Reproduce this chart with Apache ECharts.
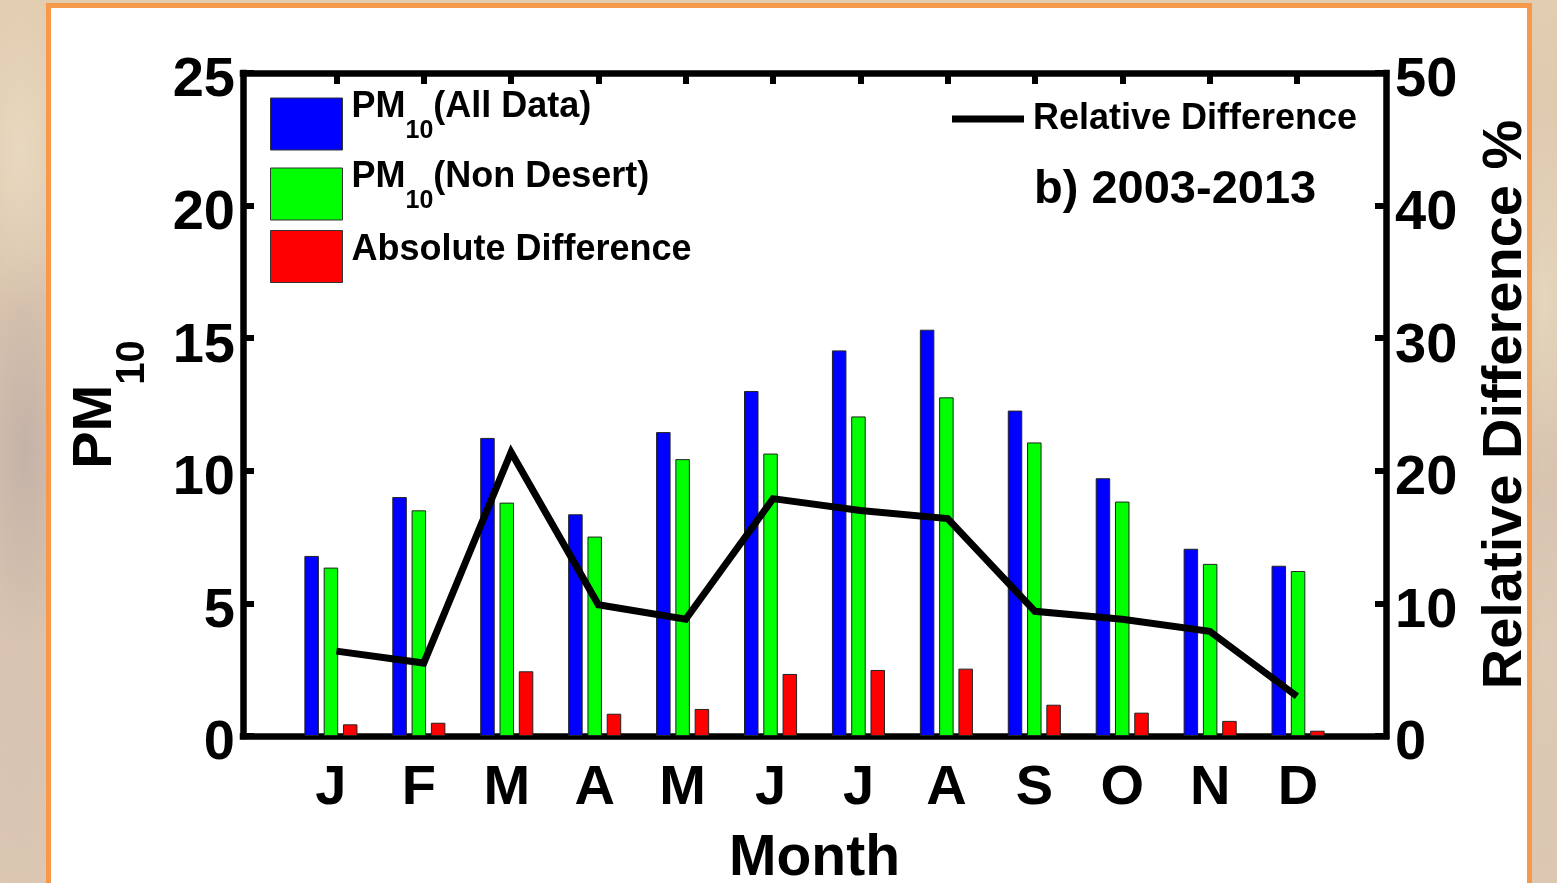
<!DOCTYPE html>
<html>
<head>
<meta charset="utf-8">
<script src="https://cdn.jsdelivr.net/npm/echarts@6/dist/echarts.min.js"></script>
<style>
  html, body { margin: 0; padding: 0; width: 1557px; height: 883px; overflow: hidden; }
  body {
    background-color: #d9c5ab;
    background-image:
      radial-gradient(ellipse 60px 160px at 20px 150px, rgba(235, 220, 195, 0.8), transparent),
      radial-gradient(ellipse 50px 200px at 25px 450px, rgba(190, 172, 165, 0.7), transparent),
      radial-gradient(ellipse 50px 180px at 20px 760px, rgba(215, 195, 180, 0.7), transparent),
      radial-gradient(ellipse 40px 200px at 1545px 300px, rgba(232, 218, 192, 0.8), transparent),
      radial-gradient(ellipse 40px 200px at 1545px 650px, rgba(222, 205, 185, 0.8), transparent),
      linear-gradient(180deg, #e2cdb0 0%, #d6c1ae 50%, #dcc8b2 100%);
  }
  #panel {
    position: absolute; left: 46px; top: 3px; width: 1486px; height: 900px;
    box-sizing: border-box; border: 5px solid #f7994a; background: #fff;
  }
  #chart { position: absolute; left: 0; top: 0; width: 1557px; height: 883px; }
</style>
</head>
<body>
<div id="panel"></div>
<div id="chart"></div>
<script>
// 月份与数据
var months = ['J', 'F', 'M', 'A', 'M', 'J', 'J', 'A', 'S', 'O', 'N', 'D'];
var pmAll = [6.79, 9.01, 11.24, 8.36, 11.46, 13.01, 14.54, 15.32, 12.27, 9.72, 7.06, 6.42];
var pmNonDesert = [6.35, 8.51, 8.80, 7.52, 10.44, 10.65, 12.05, 12.77, 11.07, 8.84, 6.49, 6.22];
var absDiff = [0.44, 0.50, 2.44, 0.84, 1.02, 2.34, 2.49, 2.54, 1.18, 0.88, 0.57, 0.20];
var relDiff = [6.4, 5.5, 21.4, 9.9, 8.8, 17.9, 17.0, 16.4, 9.4, 8.8, 7.9, 3.0];
var monthIndex = months.map(function (m, i) { return i + 1; });

var FONT = '"Liberation Sans", Arial, Helvetica, sans-serif';

function pairs(values) {
  return values.map(function (v, i) { return [monthIndex[i], v]; });
}

function bold(size, extra) {
  var s = { fontSize: size, fontWeight: 'bold', fontFamily: FONT, color: '#000' };
  for (var k in extra) s[k] = extra[k];
  return s;
}

// PM10 下标的图例文字
function legendName(name) {
  if (name.indexOf('PM10') === 0) {
    return '{p|PM}{s|10}{m|' + name.slice(4) + '}';
  }
  return '{n|' + name + '}';
}

var legendRich = {
  p: bold(36, { padding: [0, 0, 34, 4] }),
  m: bold(36, { padding: [0, 0, 34, 0] }),
  s: bold(25, { padding: [14, 0, 0, 0] }),
  n: bold(36, { padding: [0, 0, 12, 4] })
};

// 每个图例单独摆放
function boxLegend(name, top) {
  return {
    orient: 'vertical',
    left: 270,
    top: top,
    padding: 0,
    itemWidth: 72,
    itemHeight: 52,
    icon: 'rect',
    itemStyle: { borderColor: '#333', borderWidth: 1 },
    data: [name],
    formatter: legendName,
    textStyle: { rich: legendRich }
  };
}

var axisLine = { show: true, onZero: false, lineStyle: { color: '#000', width: 6.5, cap: 'square' } };
var tickStyle = { show: true, inside: true, length: 11, lineStyle: { color: '#000', width: 6 } };
var tickLabel = {
  verticalAlign: 'top',
  lineHeight: 16,
  fontSize: 56, fontWeight: 'bold', fontFamily: FONT, color: '#000'
};

var chart = echarts.init(document.getElementById('chart'));
var option = {
  animation: false,
  backgroundColor: 'transparent',
  title: {
    text: 'b) 2003-2013',
    left: 1034,
    top: 167,
    padding: 0,
    textStyle: bold(47)
  },
  legend: [
    boxLegend('PM10(All Data)', 89),
    boxLegend('PM10(Non Desert)', 159),
    boxLegend('Absolute Difference', 230),
    {
      orient: 'horizontal',
      left: 952,
      top: 99,
      padding: 0,
      itemWidth: 72,
      itemHeight: 7,
      data: [{ name: 'Relative Difference', icon: 'rect' }],
      textStyle: bold(36, { lineHeight: 40, padding: [0, 0, 0, 4] })
    }
  ],
  grid: {
    left: 243, right: 171, top: 73, bottom: 147,
    outerBoundsMode: 'none'
  },
  xAxis: [
    {
      type: 'value',
      position: 'bottom',
      min: 0, max: 13, interval: 1,
      axisLine: axisLine,
      axisTick: { show: false },
      splitLine: { show: false },
      axisLabel: {
        margin: 25,
        fontSize: 56, fontWeight: 'bold', fontFamily: FONT, color: '#000',
        formatter: function (v) { return months[v - 1] || ''; }
      },
      name: 'Month',
      nameLocation: 'middle',
      nameGap: 95,
      nameTextStyle: bold(57)
    },
    {
      // plotyy 的第二条 x 轴：折线和顶部刻度
      type: 'value',
      position: 'top',
      min: -0.07, max: 13.02,
      axisLine: axisLine,
      axisTick: {
        show: true, inside: true, length: 11,
        lineStyle: { color: '#000', width: 6 },
        customValues: monthIndex
      },
      axisLabel: { show: false },
      splitLine: { show: false }
    }
  ],
  yAxis: [
    {
      type: 'value',
      position: 'left',
      min: 0, max: 25, interval: 5,
      axisLine: axisLine,
      axisTick: tickStyle,
      splitLine: { show: false },
      axisLabel: Object.assign({ margin: 8 }, tickLabel),
      name: '{m|PM}{s|10}',
      nameLocation: 'middle',
      nameRotate: 90,
      nameGap: 83,
      nameTextStyle: {
        rich: {
          m: bold(56, { padding: [0, 0, 36, 0] }),
          s: bold(40, { padding: [37, 0, 0, 0] })
        }
      }
    },
    {
      type: 'value',
      position: 'right',
      min: 0, max: 50, interval: 10,
      axisLine: axisLine,
      axisTick: tickStyle,
      splitLine: { show: false },
      axisLabel: Object.assign({ margin: 9 }, tickLabel),
      name: 'Relative Difference %',
      nameLocation: 'middle',
      nameRotate: 90,
      nameGap: 92,
      nameTextStyle: bold(56)
    }
  ],
  series: [
    {
      name: 'PM10(All Data)',
      type: 'bar',
      xAxisIndex: 0, yAxisIndex: 0,
      barWidth: 14.5,
      barGap: '33%',
      itemStyle: { color: '#0000ff', borderColor: '#222', borderWidth: 1 },
      data: pairs(pmAll)
    },
    {
      name: 'PM10(Non Desert)',
      type: 'bar',
      xAxisIndex: 0, yAxisIndex: 0,
      barWidth: 14.5,
      barGap: '33%',
      itemStyle: { color: '#00ff00', borderColor: '#222', borderWidth: 1 },
      data: pairs(pmNonDesert)
    },
    {
      name: 'Absolute Difference',
      type: 'bar',
      xAxisIndex: 0, yAxisIndex: 0,
      barWidth: 14.5,
      barGap: '33%',
      itemStyle: { color: '#ff0000', borderColor: '#222', borderWidth: 1 },
      data: pairs(absDiff)
    },
    {
      name: 'Relative Difference',
      type: 'line',
      xAxisIndex: 1, yAxisIndex: 1,
      showSymbol: false,
      symbol: 'none',
      z: 5,
      itemStyle: { color: '#000' },
      lineStyle: { color: '#000', width: 7, join: 'miter', cap: 'butt' },
      data: pairs(relDiff)
    }
  ]
};
chart.setOption(option);
</script>
</body>
</html>
